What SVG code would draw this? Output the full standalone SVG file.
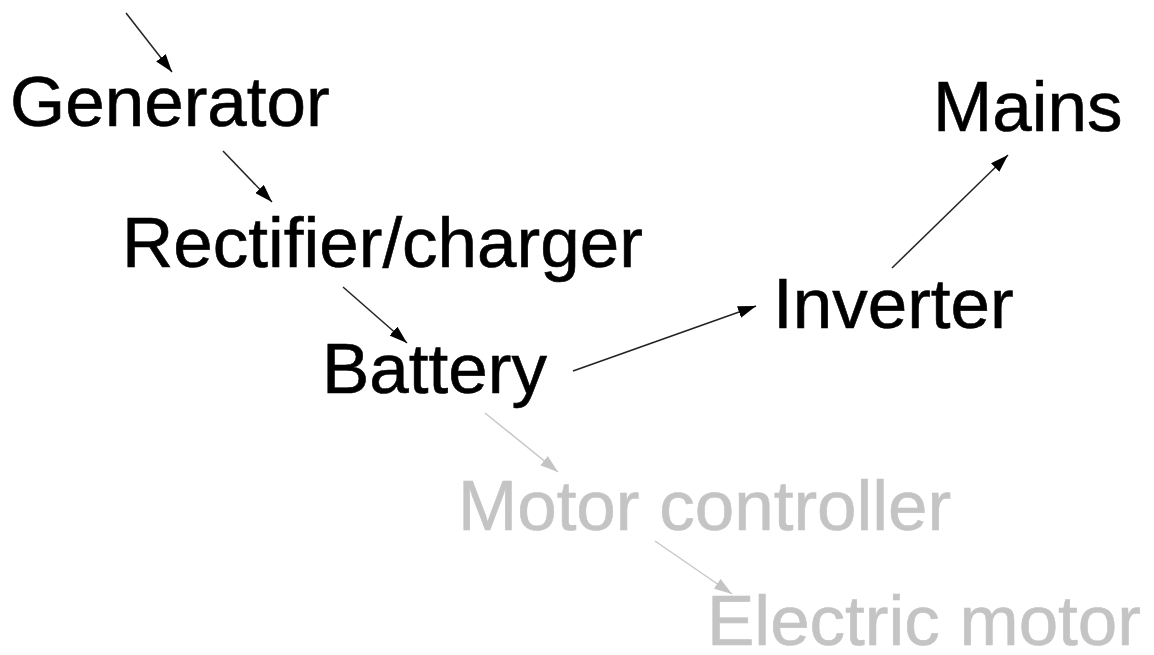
<svg xmlns="http://www.w3.org/2000/svg" width="1154" height="655" viewBox="0 0 1154 655">
<style>
.t{font-family:"Liberation Sans",Arial,sans-serif;font-size:71px;fill:#000;stroke:#000;stroke-width:0.6}
.g{fill:#c4c4c4;stroke:#c4c4c4}
.c{stroke:#222;stroke-width:1.5;fill:none}
.cg{stroke:#c8c8c8;stroke-width:1.5;fill:none}
</style>
<defs>
<marker id="a" viewBox="0 0 18 12" refX="18" refY="6" markerWidth="18" markerHeight="12" markerUnits="userSpaceOnUse" orient="auto"><path d="M0,0 L18,6 L0,12 z" fill="#000"/></marker>
<marker id="ag" viewBox="0 0 18 12" refX="18" refY="6" markerWidth="18" markerHeight="12" markerUnits="userSpaceOnUse" orient="auto"><path d="M0,0 L18,6 L0,12 z" fill="#c4c4c4"/></marker>
</defs>
<rect width="1154" height="655" fill="#fff"/>
<g id="connectors">
<line class="c" x1="126" y1="13" x2="172" y2="72" marker-end="url(#a)"/>
<line class="c" x1="223" y1="151" x2="272" y2="202" marker-end="url(#a)"/>
<line class="c" x1="343" y1="287" x2="407" y2="343" marker-end="url(#a)"/>
<line class="c" x1="573" y1="371" x2="756" y2="306" marker-end="url(#a)"/>
<line class="c" x1="892" y1="268" x2="1008" y2="155" marker-end="url(#a)"/>
<line class="cg" x1="485" y1="413" x2="558" y2="472" marker-end="url(#ag)"/>
<line class="cg" x1="655" y1="541" x2="732" y2="594" marker-end="url(#ag)"/>
</g>
<g id="generator"><text class="t" x="10" y="126">Generator</text></g>
<g id="rectifier"><text class="t" x="122" y="267">Rectifier/charger</text></g>
<g id="battery"><text class="t" x="322" y="393">Battery</text></g>
<g id="inverter"><text class="t" x="773" y="328">Inverter</text></g>
<g id="mains"><text class="t" x="933" y="131">Mains</text></g>
<g id="motor-controller"><text class="t g" x="458" y="530">Motor controller</text></g>
<g id="electric-motor"><text class="t g" x="707" y="645">Electric motor</text></g>
</svg>
